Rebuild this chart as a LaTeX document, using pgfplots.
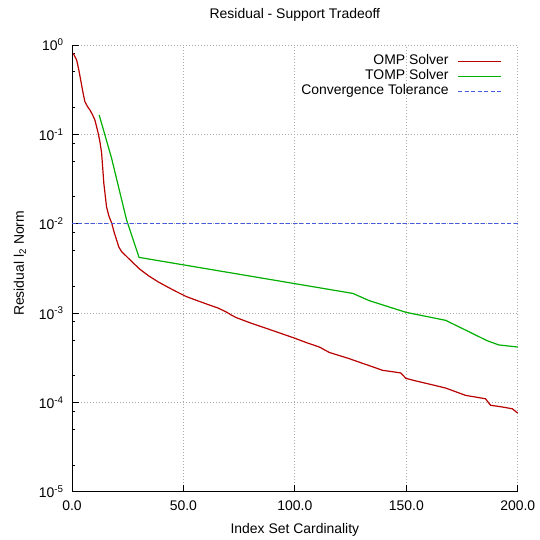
\documentclass[border=0pt]{standalone}
\usepackage{fontspec}
\setmainfont{Liberation Sans}
\usepackage{pgfplots}
\pgfplotsset{compat=1.18}
\definecolor{ompred}{RGB}{185,0,0}
\definecolor{tompgreen}{RGB}{0,175,0}
\definecolor{tolblue}{RGB}{70,90,225}
\definecolor{gridgray}{RGB}{170,170,170}
\begin{document}
\begin{tikzpicture}
\begin{axis}[
  scale only axis,
  width=446bp, height=447bp,
  xmin=0, xmax=200,
  ymode=log, ymin=1e-5, ymax=1,
  axis x line*=bottom, axis y line*=left,
  axis line style={black, line width=0.8bp},
  font=\fontsize{14}{16}\selectfont,
  xtick={0,50,100,150,200},
  xticklabels={0.0,50.0,100.0,150.0,200.0},
  ytick={1e-5,1e-4,1e-3,1e-2,1e-1,1},
  yticklabels={10\textsuperscript{-5},10\textsuperscript{-4},10\textsuperscript{-3},10\textsuperscript{-2},10\textsuperscript{-1},10\textsuperscript{0}},
  minor ytick={2e-5,5e-5,8e-5,2e-4,5e-4,8e-4,2e-3,5e-3,8e-3,2e-2,5e-2,8e-2,2e-1,5e-1,8e-1},
  tick align=inside,
  major tick length=7bp, minor tick length=3.5bp,
  tick style={black, line width=0.8bp},
  xticklabel style={yshift=-5bp},
  yticklabel style={xshift=-5bp},
  grid=major,
  major grid style={gridgray, line width=0.8bp, dash pattern=on 1bp off 2bp},
  title={Residual - Support Tradeoff},
  title style={at={(0.5,1)}, anchor=base, yshift=21bp},
  xlabel={Index Set Cardinality},
  xlabel style={at={(axis description cs:0.5,0)}, anchor=base, yshift=-42bp},
  ylabel={Residual l\textsubscript{2} Norm},
  ylabel style={at={(axis description cs:0,0.5)}, anchor=center, yshift=52bp, xshift=5bp},
  legend plot pos=right,
  legend cell align=right,
  legend style={draw=none, fill=none, inner sep=0pt, outer sep=0pt,
    at={(rel axis cs:0.964,0.98)}, anchor=north east,
    nodes={inner sep=1bp, text height=10bp, text depth=3bp},
    column sep=8bp, row sep=0bp,
    font=\fontsize{14}{16}\selectfont},
]
\addplot[draw=ompred, line width=1.2bp, legend image code/.code={\draw[draw=ompred, line width=1.2bp] (0bp,0bp) -- (43bp,0bp);}] coordinates {
(0.6,0.807) (2.1,0.679) (3.0,0.537) (3.9,0.407) (5.0,0.288) (5.8,0.232)
(7.0,0.204) (8.05,0.1875) (9.2,0.166) (10.3,0.1445) (11.8,0.102) (12.6,0.081)
(13.3,0.0617) (13.8,0.0417) (14.3,0.0282) (15.5,0.0155) (16.5,0.0123) (17.8,0.0102)
(19,0.0079) (20,0.0066) (21,0.0055) (22.2,0.0049) (24.5,0.0043) (26.7,0.0038)
(30.4,0.0031) (34.5,0.0026) (38.6,0.00224) (42.7,0.00197) (46.8,0.00174)
(51.3,0.00153) (56.5,0.00137) (61.7,0.00123) (65.5,0.00114) (69.2,0.00103)
(71.5,0.00095) (73.7,0.00089) (80.4,0.00077) (87.1,0.000676) (93.5,0.000595)
(99.8,0.000525) (105.4,0.000465) (111,0.000417) (115.4,0.000363) (124.4,0.000309)
(128.9,0.000282) (134,0.000255) (139.3,0.000229) (147.5,0.000214) (149.8,0.000186)
(153.5,0.000176) (160.5,0.00016) (167.6,0.000145) (176.6,0.00012) (185.5,0.00011)
(187.8,0.000093) (193,0.000089) (197.5,0.000085) (200,0.000076)
};
\addlegendentry{OMP Solver}
\addplot[draw=tompgreen, line width=1.2bp, legend image code/.code={\draw[draw=tompgreen, line width=1.2bp] (0bp,0bp) -- (43bp,0bp);}] coordinates {
(12.2,0.165) (17.8,0.0537) (24.5,0.011) (30.1,0.0042) (126,0.00166)
(133.3,0.00138) (149.8,0.00102) (167.6,0.00083) (176.6,0.000645)
(186.3,0.00049) (191.5,0.00044) (200,0.000417)
};
\addlegendentry{TOMP Solver}
\addplot[draw=tolblue, line width=1.2bp, dash pattern=on 4bp off 2.5bp, legend image code/.code={\draw[draw=tolblue, line width=1.2bp, dash pattern=on 4bp off 2.5bp] (0bp,0bp) -- (43bp,0bp);}] coordinates {
(0,0.01) (200,0.01)
};
\addlegendentry{Convergence Tolerance}
\coordinate (bl) at (rel axis cs:0,0);
\coordinate (tr) at (rel axis cs:1,1);
\end{axis}
\path ([shift={(-72bp,-48bp)}]bl) rectangle ([shift={(22bp,45bp)}]tr);
\end{tikzpicture}
\end{document}
